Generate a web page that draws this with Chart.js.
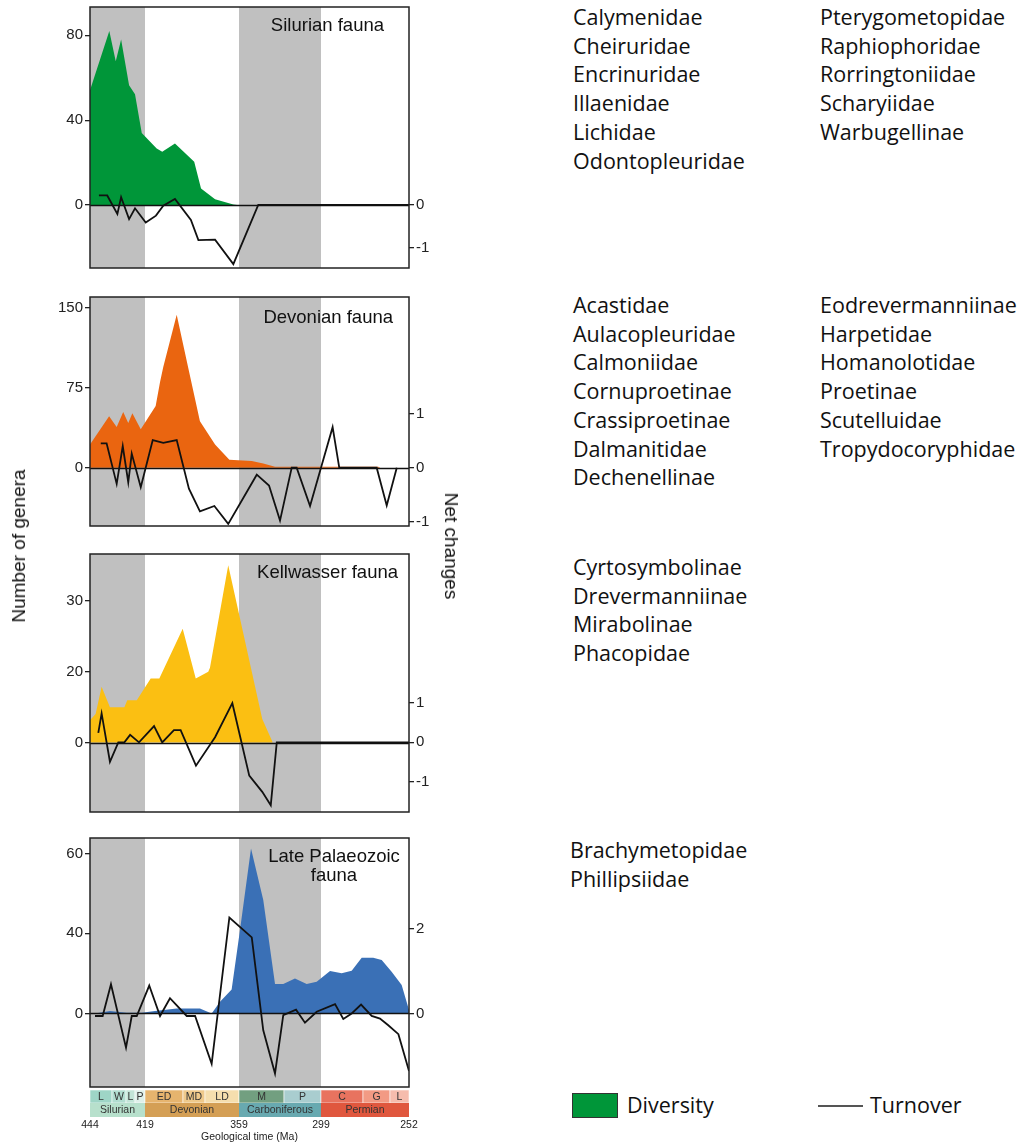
<!DOCTYPE html>
<html>
<head>
<meta charset="utf-8">
<script src="https://cdn.jsdelivr.net/npm/chart.js@4.4.0/dist/chart.umd.min.js"></script>
<style>
  body { margin: 0; background: #fff; width: 1017px; height: 1142px; position: relative; overflow: hidden;
         font-family: "Liberation Sans", Arial, sans-serif; }
  canvas { position: absolute; left: 0; }
  .fam { position: absolute; font-family: "Open Sans", sans-serif; font-size: 21.5px; line-height: 28.7px; color: #111; white-space: nowrap; }
  .ax { position: absolute; font-size: 19px; color: #111; white-space: nowrap; }
</style>
</head>
<body>
<canvas id="p1" width="460" height="283" style="top:-4px;width:460px;height:283px"></canvas>
<canvas id="p2" width="460" height="251" style="top:286px;width:460px;height:251px"></canvas>
<canvas id="p3" width="460" height="280" style="top:543px;width:460px;height:280px"></canvas>
<canvas id="p4" width="460" height="316" style="top:827px;width:460px;height:316px"></canvas>

<div class="ax" style="left:19px;top:546px;transform:translate(-50%,-50%) rotate(-90deg)">Number of genera</div>
<div class="ax" style="left:451px;top:546px;transform:translate(-50%,-50%) rotate(90deg)">Net changes</div>

<div class="fam" style="left:573px;top:3px">Calymenidae<br>Cheiruridae<br>Encrinuridae<br>Illaenidae<br>Lichidae<br>Odontopleuridae</div>
<div class="fam" style="left:820px;top:3px">Pterygometopidae<br>Raphiophoridae<br>Rorringtoniidae<br>Scharyiidae<br>Warbugellinae</div>
<div class="fam" style="left:573px;top:291px">Acastidae<br>Aulacopleuridae<br>Calmoniidae<br>Cornuproetinae<br>Crassiproetinae<br>Dalmanitidae<br>Dechenellinae</div>
<div class="fam" style="left:820px;top:291px">Eodrevermanniinae<br>Harpetidae<br>Homanolotidae<br>Proetinae<br>Scutelluidae<br>Tropydocoryphidae</div>
<div class="fam" style="left:573px;top:553px">Cyrtosymbolinae<br>Drevermanniinae<br>Mirabolinae<br>Phacopidae</div>
<div class="fam" style="left:570px;top:836px">Brachymetopidae<br>Phillipsiidae</div>

<div style="position:absolute;left:572px;top:1093px;width:44px;height:23px;background:#009639;border:1px solid #333"></div>
<div class="fam" style="left:627px;top:1091px">Diversity</div>
<div style="position:absolute;left:818px;top:1105px;width:45px;height:1.5px;background:#555"></div>
<div class="fam" style="left:870px;top:1091px">Turnover</div>

<script>
// geological time scale (Ma)
const periodNames = ['Silurian', 'Devonian', 'Carboniferous', 'Permian'];
const periodBounds = [444, 419, 359, 299, 252];
const stageNames = ['L', 'W', 'L', 'P', 'ED', 'MD', 'LD', 'M', 'P', 'C', 'G', 'L'];
const stageBounds = [444, 433.4, 427.4, 423, 419, 393, 383, 359, 323, 299, 273, 259, 252];
// the time axis is not linear: share of the axis width at each stage boundary
const stageAxisPos = [0, 0.069, 0.1129, 0.1411, 0.1724, 0.2915, 0.3605, 0.4671, 0.6082, 0.7241, 0.8558, 0.9404, 1];
const timeTicks = [444, 419, 359, 299, 252];

// Silurian fauna
const silDivAge = [444, 434.7, 431.8, 429.5, 425.9, 423, 420.3, 411, 407.2, 398.5, 387.9, 384.8, 375.9, 363, 359];
const silDiv = [54.1, 82, 67.8, 78, 56.5, 52.2, 34, 26.7, 25.1, 29, 20.4, 7.8, 2.8, 0.3, 0];
const silTurnAge = [439.7, 435.7, 431.1, 429.5, 425.9, 423, 418.5, 411.5, 406.5, 398.5, 389.4, 386, 375.9, 363, 343.6, 252];
const silTurn = [0.22, 0.22, -0.21, 0.18, -0.33, -0.08, -0.41, -0.25, -0.02, 0.14, -0.35, -0.82, -0.81, -1.38, 0, 0];

// Devonian fauna
const devDivAge = [444, 434.8, 431.4, 428.6, 426.3, 424.3, 420.7, 411.7, 408.7, 406.5, 397.3, 390.6, 385.3, 375.9, 365.8, 348.8, 339.6, 330.2, 265.1, 264];
const devDiv = [21.6, 48.1, 38.1, 52.2, 41.9, 50.9, 35.9, 57.8, 80.3, 94.4, 143.4, 93.4, 43.4, 21.6, 7.5, 6.3, 3.8, 0.8, 0.8, 0];
const devTurnAge = [438.8, 436, 431.4, 428.8, 426.3, 424.6, 420.7, 413.7, 406.5, 397.3, 390.3, 385.3, 376.4, 366.6, 344.8, 335, 326.2, 318, 314.8, 306.1, 298.6, 291.8, 287.7, 265.9, 260.7, 256.5];
const devTurn = [0.45, 0.45, -0.30, 0.40, -0.27, 0.26, -0.36, 0.51, 0.46, 0.51, -0.39, -0.81, -0.71, -1.04, -0.13, -0.33, -0.98, 0, 0, -0.71, 0.04, 0.75, 0, 0, -0.70, 0];

// Kellwasser fauna
const kelDivAge = [444, 441.3, 438.4, 434.4, 428.1, 426.8, 422.3, 415.1, 409.2, 393.2, 387.2, 380.7, 379.5, 366.6, 340.4, 332];
const kelDiv = [6.3, 8, 15.7, 9.9, 9.9, 11.9, 11.9, 18, 18, 26, 18, 19.9, 20.5, 35, 6.6, 0];
const kelTurnAge = [440, 438.4, 434.4, 430.7, 428.1, 425.4, 421.4, 412.8, 407.2, 399.2, 394.6, 387.1, 375.9, 363.7, 350.8, 340.4, 333.6, 328.8, 252];
const kelTurn = [0.24, 0.73, -0.49, 0, 0, 0.19, 0, 0.41, 0, 0.31, 0.31, -0.59, 0.13, 0.99, -0.84, -1.25, -1.59, 0, 0];

// Late Palaeozoic fauna
const latDivAge = [441.6, 434.4, 427.1, 420.3, 412.2, 397.3, 385.3, 378.3, 372.4, 364.2, 358.2, 349.4, 339.6, 330.2, 323.6, 315.9, 308.3, 301.8, 293.4, 286.2, 280, 273.8, 267.7, 263.3, 258.4, 254.7, 252];
const latDiv = [0, 1.2, 0.3, 0.3, 1.2, 2.5, 2.5, 0, 5.8, 12, 40.8, 61.4, 48.4, 14.7, 14.7, 17.5, 14.7, 15.8, 21.2, 20, 21.3, 27.8, 27.8, 26.7, 20.8, 14.2, 1.7];
const latTurnAge = [441.6, 437.9, 433.9, 427.4, 424.6, 422.3, 416.1, 408.7, 401.9, 391.3, 387.5, 378.3, 365.8, 348.8, 339.6, 330.2, 323.6, 315.2, 309.4, 301.8, 290.3, 285.2, 280, 274.2, 268.5, 264.2, 259.9, 255.9, 252];
const latTurn = [-0.06, -0.06, 0.69, -0.81, -0.06, -0.06, 0.66, -0.06, 0.36, -0.06, -0.06, -1.19, 2.27, 1.80, -0.40, -1.42, -0.04, 0.09, -0.22, 0.04, 0.22, -0.13, 0, 0.21, -0.06, -0.12, -0.28, -0.49, -1.36];

// the genera axes of the two lower panels have uneven tick spacing
const kelAxisVals = [-19.5, 0, 20, 30, 36.6];
const kelAxisPos = [0, 0.269, 0.545, 0.82, 1];
const latAxisVals = [-36.7, 0, 40, 60, 64.05];
const latAxisPos = [0, 0.2953, 0.6174, 0.9356, 1];

const stageColors = ['#9ed5c6', '#b1ddd0', '#c3e5d8', '#dff0ea', '#e6b46e', '#efc98b', '#f5deae', '#729f80', '#a9cdcf', '#e8735f', '#f29a84', '#f6bcad'];
const periodColors = ['#b7e0cc', '#d49f55', '#68a9b0', '#e0573e'];

const knotSets = {
  time: [stageBounds, stageAxisPos],
  kel: [kelAxisVals, kelAxisPos],
  lat: [latAxisVals, latAxisPos]
};

function interp(v, xs, ys) {
  const n = xs.length;
  const asc = xs[n - 1] > xs[0];
  let i = 0;
  while (i < n - 2 && (asc ? v > xs[i + 1] : v < xs[i + 1])) i++;
  return ys[i] + (v - xs[i]) * (ys[i + 1] - ys[i]) / (xs[i + 1] - xs[i]);
}

// linear scale with a piecewise mapping between values and positions
class PiecewiseScale extends Chart.LinearScale {
  getPixelForValue(value) {
    if (value === null || value === undefined || isNaN(value)) return NaN;
    const k = knotSets[this.options.knotSet];
    return this.getPixelForDecimal(interp(value, k[0], k[1]));
  }
  getValueForPixel(pixel) {
    const k = knotSets[this.options.knotSet];
    return interp(this.getDecimalForPixel(pixel), k[1], k[0]);
  }
}
PiecewiseScale.id = 'piecewise';
PiecewiseScale.defaults = Chart.LinearScale.defaults;
Chart.register(PiecewiseScale);

const FONT = 'Liberation Sans';

const panelDeco = {
  id: 'panelDeco',
  beforeDatasetsDraw(chart) {
    const { ctx, chartArea: a, scales: { x } } = chart;
    ctx.save();
    ctx.fillStyle = '#c0c0c0';
    for (let i = 0; i < periodNames.length; i += 2) {
      const x0 = x.getPixelForValue(periodBounds[i]);
      const x1 = x.getPixelForValue(periodBounds[i + 1]);
      ctx.fillRect(x0, a.top, x1 - x0, a.bottom - a.top);
    }
    ctx.restore();
  },
  beforeDatasetDraw(chart, args) {
    if (args.index !== 0) return;
    const { ctx, chartArea: a } = chart;
    const y0 = Math.round(chart.scales.y.getPixelForValue(0)) + 0.5;
    ctx.save();
    ctx.strokeStyle = '#111';
    ctx.lineWidth = 1.6;
    ctx.beginPath();
    ctx.moveTo(a.left, y0);
    ctx.lineTo(a.right, y0);
    ctx.stroke();
    ctx.restore();
  },
  afterDraw(chart, args, o) {
    const { ctx, chartArea: a, scales: { x } } = chart;
    ctx.save();
    ctx.strokeStyle = '#222';
    ctx.lineWidth = 1.5;
    ctx.strokeRect(a.left, a.top, a.right - a.left, a.bottom - a.top);

    ctx.fillStyle = '#111';
    ctx.font = '18.5px "' + FONT + '"';
    ctx.textBaseline = 'middle';
    ctx.textAlign = o.titleAlign;
    o.title.forEach((t, i) => {
      ctx.fillText(t, a.right + o.titleDx, a.top + o.titleDy + i * 18.5);
    });

    if (o.timescale) {
      const t0 = a.bottom + 3, t1 = a.bottom + 16, t2 = a.bottom + 30;
      ctx.textAlign = 'center';
      ctx.font = '10.5px "' + FONT + '"';
      stageNames.forEach((s, i) => {
        const x0 = x.getPixelForValue(stageBounds[i]);
        const x1 = x.getPixelForValue(stageBounds[i + 1]);
        ctx.fillStyle = stageColors[i];
        ctx.fillRect(x0, t0, x1 - x0, t1 - t0);
        ctx.strokeStyle = 'rgba(255,255,255,0.7)';
        ctx.lineWidth = 0.8;
        ctx.strokeRect(x0, t0, x1 - x0, t1 - t0);
        ctx.fillStyle = '#333';
        ctx.fillText(s, (x0 + x1) / 2, (t0 + t1) / 2 + 0.5);
      });
      periodNames.forEach((p, i) => {
        const x0 = x.getPixelForValue(periodBounds[i]);
        const x1 = x.getPixelForValue(periodBounds[i + 1]);
        ctx.fillStyle = periodColors[i];
        ctx.fillRect(x0, t1, x1 - x0, t2 - t1);
        ctx.fillStyle = '#333';
        ctx.fillText(p, (x0 + x1) / 2, (t1 + t2) / 2 + 0.5);
      });
    }
    ctx.restore();
  }
};

function pts(ages, vals) {
  return ages.map((a, i) => ({ x: a, y: vals[i] }));
}

function fixTicks(list) {
  return s => { s.ticks = list.map(v => ({ value: v })); };
}

function yAxis(pos, width, cfg) {
  return Object.assign({
    position: pos,
    afterFit: s => { s.width = width; },
    afterBuildTicks: fixTicks(cfg.ticks),
    grid: { drawOnChartArea: false, tickLength: 5, color: '#222', lineWidth: 1.3 },
    border: { display: false },
    ticks: { color: '#222', padding: 2, autoSkip: false, font: { family: FONT, size: 15 }, callback: v => String(v) }
  }, cfg.scale);
}

function makePanel(id, p) {
  const xScale = {
    type: 'piecewise', knotSet: 'time', min: 252, max: 444,
    display: !!p.timescale,
    afterBuildTicks: fixTicks(timeTicks),
    grid: { display: false }, border: { display: false },
    ticks: { autoSkip: false, maxRotation: 0, padding: 24, color: '#222', font: { family: FONT, size: 10.5 }, callback: v => String(v) },
    title: { display: true, text: 'Geological time (Ma)', color: '#222', padding: 0, font: { family: FONT, size: 10.5 } }
  };
  if (p.timescale) xScale.afterFit = s => { s.height = 56; };

  new Chart(document.getElementById(id), {
    type: 'line',
    data: {
      datasets: [
        { data: pts(p.turnAge, p.turn), yAxisID: 'y2', borderColor: '#111', borderWidth: 1.8,
          pointRadius: 0, fill: false, tension: 0 },
        { data: pts(p.divAge, p.div), yAxisID: 'y', backgroundColor: p.color, borderWidth: 0,
          borderColor: p.color, pointRadius: 0, fill: 'origin', tension: 0 }
      ]
    },
    options: {
      responsive: false,
      maintainAspectRatio: false,
      animation: false,
      layout: { padding: 0 },
      scales: {
        x: xScale,
        y: yAxis('left', 90, p.left),
        y2: yAxis('right', 51, p.right)
      },
      plugins: {
        legend: { display: false },
        tooltip: { enabled: false },
        panelDeco: { title: p.title, titleAlign: p.titleAlign || 'right', titleDx: p.titleDx, titleDy: p.titleDy, timescale: !!p.timescale }
      }
    },
    plugins: [panelDeco]
  });
}

makePanel('p1', {
  divAge: silDivAge, div: silDiv, turnAge: silTurnAge, turn: silTurn, color: '#009639',
  left: { ticks: [0, 40, 80], scale: { min: -29.6, max: 93.3 } },
  right: { ticks: [-1, 0], scale: { min: -1.47, max: 4.61 } },
  title: ['Silurian fauna'], titleDx: -25, titleDy: 19
});
makePanel('p2', {
  divAge: devDivAge, div: devDiv, turnAge: devTurnAge, turn: devTurn, color: '#ea6510',
  left: { ticks: [0, 75, 150], scale: { min: -54.7, max: 160 } },
  right: { ticks: [-1, 0, 1], scale: { min: -1.08, max: 3.16 } },
  title: ['Devonian fauna'], titleDx: -16, titleDy: 21
});
makePanel('p3', {
  divAge: kelDivAge, div: kelDiv, turnAge: kelTurnAge, turn: kelTurn, color: '#fbbf12',
  left: { ticks: [0, 20, 30], scale: { type: 'piecewise', knotSet: 'kel', min: -19.5, max: 36.6 } },
  right: { ticks: [-1, 0, 1], scale: { min: -1.76, max: 4.76 } },
  title: ['Kellwasser fauna'], titleDx: -11, titleDy: 19
});
makePanel('p4', {
  divAge: latDivAge, div: latDiv, turnAge: latTurnAge, turn: latTurn, color: '#3a70b6',
  left: { ticks: [0, 40, 60], scale: { type: 'piecewise', knotSet: 'lat', min: -36.7, max: 64.05 } },
  right: { ticks: [0, 2], scale: { min: -1.74, max: 4.15 } },
  title: ['Late Palaeozoic', 'fauna'], titleAlign: 'center', titleDx: -75, titleDy: 19,
  timescale: true
});
</script>
</body>
</html>
